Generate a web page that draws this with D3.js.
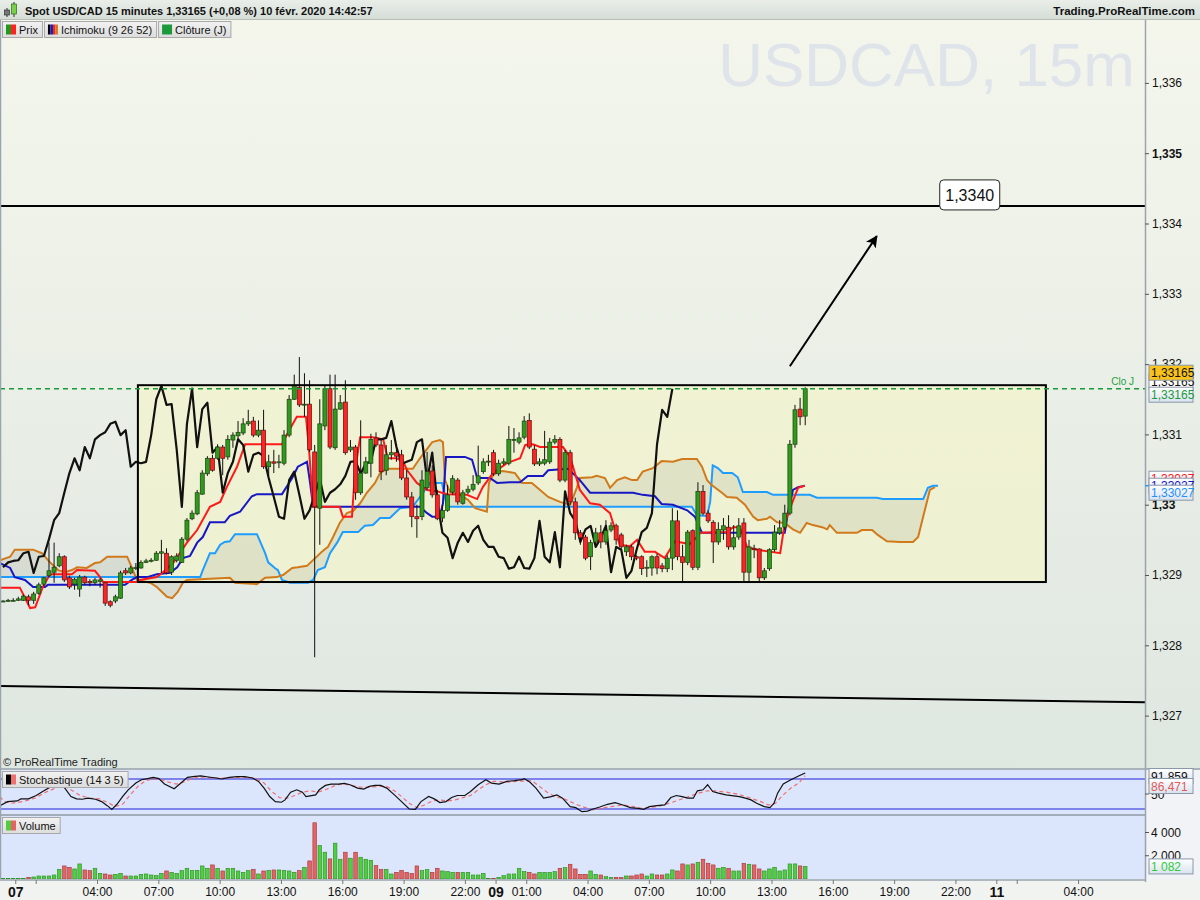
<!DOCTYPE html>
<html><head><meta charset="utf-8">
<script src="https://cdn.jsdelivr.net/npm/d3@7"></script>
<style>body{margin:0;background:#fff;} svg{display:block;font-family:"Liberation Sans",Arial,sans-serif;}</style>
</head><body><svg id="c" width="1200" height="900"></svg>
<script>
// ---------- DATA ----------
// candles: [open, high, low, close], one per 15-minute bar (bar index 0 = first bar)
const candles = [
[1.32863,1.32864,1.32862,1.32863],[1.32863,1.32866,1.32862,1.32864],[1.32864,1.32867,1.32863,1.32864],[1.32864,1.32869,1.32863,1.32866],
[1.32864,1.32872,1.32863,1.32870],[1.32869,1.32872,1.32857,1.32864],[1.32864,1.32876,1.32859,1.32873],[1.32874,1.32889,1.32872,1.32886],
[1.32887,1.32897,1.32884,1.32896],[1.32899,1.32946,1.32897,1.32906],[1.32904,1.32946,1.32889,1.32911],[1.32913,1.32931,1.32911,1.32926],
[1.32926,1.32928,1.32890,1.32893],[1.32896,1.32899,1.32880,1.32883],[1.32887,1.32896,1.32879,1.32894],[1.32880,1.32900,1.32869,1.32897],
[1.32897,1.32899,1.32886,1.32889],[1.32891,1.32894,1.32884,1.32889],[1.32889,1.32896,1.32886,1.32893],[1.32891,1.32896,1.32882,1.32893],
[1.32889,1.32890,1.32856,1.32860],[1.32862,1.32864,1.32854,1.32857],[1.32863,1.32872,1.32860,1.32869],[1.32867,1.32906,1.32866,1.32903],
[1.32906,1.32910,1.32900,1.32903],[1.32903,1.32913,1.32901,1.32910],[1.32909,1.32917,1.32907,1.32911],[1.32910,1.32921,1.32909,1.32918],
[1.32918,1.32923,1.32917,1.32920],[1.32920,1.32924,1.32918,1.32921],[1.32921,1.32934,1.32920,1.32931],[1.32931,1.32950,1.32903,1.32933],
[1.32931,1.32938,1.32901,1.32903],[1.32904,1.32928,1.32900,1.32926],[1.32921,1.32931,1.32918,1.32927],[1.32918,1.32954,1.32917,1.32951],
[1.32951,1.32981,1.32948,1.32978],[1.32980,1.32992,1.32978,1.32988],[1.32987,1.33021,1.32985,1.33017],[1.33015,1.33049,1.33014,1.33045],
[1.33044,1.33069,1.33041,1.33066],[1.33066,1.33071,1.33047,1.33049],[1.33066,1.33086,1.33064,1.33082],[1.33082,1.33085,1.33042,1.33066],
[1.33068,1.33099,1.33064,1.33093],[1.33092,1.33103,1.33081,1.33099],[1.33098,1.33119,1.33092,1.33103],[1.33102,1.33123,1.33099,1.33115],
[1.33115,1.33135,1.33112,1.33118],[1.33119,1.33125,1.33096,1.33099],[1.33099,1.33120,1.33096,1.33106],[1.33106,1.33135,1.33051,1.33054],
[1.33054,1.33071,1.33042,1.33061],[1.33061,1.33078,1.33045,1.33059],[1.33061,1.33071,1.33052,1.33061],[1.33059,1.33106,1.33056,1.33099],
[1.33099,1.33156,1.33096,1.33150],[1.33150,1.33185,1.33149,1.33169],[1.33167,1.33210,1.33139,1.33142],[1.33142,1.33187,1.33125,1.33143],
[1.33143,1.33177,1.33075,1.33078],[1.33075,1.33085,1.32783,1.32997],[1.32995,1.33150,1.32943,1.33115],[1.33112,1.33169,1.33106,1.33165],
[1.33165,1.33185,1.33079,1.33082],[1.33081,1.33185,1.33078,1.33136],[1.33136,1.33156,1.33135,1.33145],[1.33146,1.33177,1.33071,1.33074],
[1.33078,1.33092,1.33075,1.33082],[1.33082,1.33085,1.33007,1.33017],[1.33017,1.33120,1.33014,1.33045],[1.33045,1.33068,1.33044,1.33061],
[1.33059,1.33101,1.33039,1.33093],[1.33095,1.33103,1.33082,1.33085],[1.33085,1.33092,1.33035,1.33047],[1.33049,1.33085,1.33042,1.33071],
[1.33071,1.33092,1.33064,1.33074],[1.33074,1.33082,1.33061,1.33069],[1.33071,1.33078,1.33035,1.33038],[1.33038,1.33049,1.33007,1.33011],
[1.33011,1.33018,1.32968,1.32983],[1.32983,1.33000,1.32953,1.32980],[1.32983,1.33049,1.32978,1.33035],[1.33024,1.33075,1.33021,1.33047],
[1.33048,1.33056,1.33010,1.33014],[1.33014,1.33021,1.32978,1.32980],[1.32981,1.33000,1.32975,1.32992],[1.32992,1.33028,1.32990,1.33014],
[1.33018,1.33042,1.33014,1.33037],[1.33035,1.33038,1.33000,1.33004],[1.33002,1.33021,1.33000,1.33017],[1.33018,1.33027,1.33015,1.33022],
[1.33022,1.33042,1.33019,1.33029],[1.33031,1.33084,1.33028,1.33041],[1.33047,1.33066,1.33044,1.33061],[1.33061,1.33071,1.33055,1.33062],
[1.33074,1.33078,1.33041,1.33044],[1.33044,1.33064,1.33041,1.33059],[1.33059,1.33066,1.33056,1.33061],[1.33059,1.33112,1.33056,1.33093],
[1.33092,1.33109,1.33074,1.33093],[1.33089,1.33103,1.33086,1.33095],[1.33096,1.33126,1.33093,1.33119],[1.33120,1.33130,1.33079,1.33082],
[1.33079,1.33085,1.33055,1.33058],[1.33058,1.33066,1.33055,1.33061],[1.33059,1.33105,1.33056,1.33064],[1.33061,1.33095,1.33058,1.33089],
[1.33089,1.33099,1.33086,1.33093],[1.33093,1.33096,1.33032,1.33035],[1.33035,1.33078,1.33032,1.33074],[1.33074,1.33078,1.33000,1.33004],
[1.33004,1.33010,1.32950,1.32960],[1.32960,1.32964,1.32943,1.32953],[1.32954,1.32957,1.32921,1.32924],[1.32926,1.32950,1.32907,1.32946],
[1.32947,1.32967,1.32943,1.32960],[1.32960,1.32971,1.32938,1.32947],[1.32947,1.32978,1.32943,1.32963],[1.32964,1.32975,1.32961,1.32970],
[1.32970,1.32973,1.32943,1.32950],[1.32957,1.32960,1.32936,1.32940],[1.32933,1.32943,1.32927,1.32940],[1.32940,1.32943,1.32921,1.32926],
[1.32926,1.32928,1.32921,1.32924],[1.32926,1.32928,1.32900,1.32909],[1.32910,1.32921,1.32897,1.32911],[1.32910,1.32928,1.32899,1.32926],
[1.32926,1.32930,1.32901,1.32910],[1.32913,1.32917,1.32904,1.32909],[1.32909,1.32928,1.32904,1.32924],[1.32924,1.32995,1.32907,1.32977],
[1.32977,1.32992,1.32921,1.32926],[1.32926,1.32943,1.32889,1.32918],[1.32918,1.32964,1.32914,1.32961],[1.32963,1.32965,1.32907,1.32911],
[1.32911,1.33032,1.32907,1.33019],[1.33019,1.33028,1.32985,1.32988],[1.32988,1.32992,1.32974,1.32977],[1.32975,1.32978,1.32917,1.32947],
[1.32947,1.32975,1.32943,1.32965],[1.32964,1.32981,1.32950,1.32970],[1.32968,1.32985,1.32936,1.32940],[1.32940,1.32971,1.32936,1.32953],
[1.32954,1.32981,1.32950,1.32970],[1.32974,1.32981,1.32889,1.32904],[1.32904,1.32950,1.32889,1.32940],[1.32938,1.32943,1.32924,1.32936],
[1.32937,1.32938,1.32889,1.32896],[1.32896,1.32910,1.32893,1.32906],[1.32909,1.32938,1.32906,1.32936],[1.32936,1.32971,1.32933,1.32961],
[1.32960,1.32978,1.32957,1.32967],[1.32968,1.33000,1.32964,1.32988],[1.32988,1.33092,1.32985,1.33086],[1.33086,1.33142,1.33081,1.33135],
[1.33136,1.33152,1.33113,1.33125],[1.33126,1.33167,1.33113,1.33165]
];
const volumes = [58,58,58,
58,58,144,173,259,259,259,346,835,1123,1008,864,1296,778,720,922,490,432,346,403,490,259,259,259,403,432,346,288,
490,691,576,490,720,922,720,749,1123,922,1210,922,691,922,922,691,576,720,835,432,691,749,778,778,749,691,576,720,
1008,1555,4838,2880,2304,1728,3082,1699,2304,1786,2304,1872,1699,1613,1152,835,835,432,576,749,576,490,1123,720,806,
576,922,691,634,576,576,576,576,346,346,490,30,30,144,288,432,432,922,634,576,432,576,576,576,634,922,979,1267,864,
403,403,691,403,346,202,144,144,115,259,259,346,432,259,432,346,346,432,778,691,1296,1210,1296,1440,1699,1354,1210,
922,1008,922,691,691,1354,1267,1210,864,691,864,1008,691,778,1296,1296,1123,1082];

// Ichimoku lines: [bar index, price]
const tenkan = [[-0.6,1.32882],[3.3,1.32882],[5.3,1.32853],[6.3,1.32854],[7.8,1.32883],[9.2,1.32901],[13.5,1.32901],[14.5,1.32907],[18.0,1.32906],[19.0,1.32897],[19.6,1.32890],[26.2,1.32890],[26.8,1.32893],[30.1,1.32897],[31.3,1.32904],[33.3,1.32917],[34.6,1.32931],[36.0,1.32946],[38.0,1.32964],[40.5,1.32997],[42.5,1.33004],[43.8,1.33025],[45.8,1.33054],[47.4,1.33086],[54.6,1.33086],[55.8,1.33103],[57.5,1.33125],[59.3,1.33125],[59.9,1.33078],[60.7,1.32997],[65.9,1.32997],[66.5,1.32983],[68.3,1.32983],[68.9,1.33049],[69.9,1.33096],[72.4,1.33096],[74.4,1.33093],[75.3,1.33066],[77.1,1.33066],[78.3,1.33061],[79.1,1.33049],[81.0,1.33031],[83.0,1.33021],[84.9,1.33019],[86.9,1.33015],[90.8,1.33014],[92.8,1.33008],[93.9,1.33025],[95.9,1.33045],[98.6,1.33059],[101.2,1.33066],[102.2,1.33085],[103.7,1.33086],[105.1,1.33082],[109.6,1.33082],[111.0,1.33068],[112.9,1.33021],[114.9,1.33002],[116.8,1.33000],[118.8,1.32988],[120.7,1.32943],[122.7,1.32941],[124.1,1.32950],[125.6,1.32933],[127.6,1.32933],[129.5,1.32924],[130.5,1.32936],[131.5,1.32948],[134.4,1.32944],[135.8,1.32954],[136.4,1.32960],[141.7,1.32961],[142.9,1.32968],[144.2,1.32968],[145.6,1.32940],[147.5,1.32936],[152.1,1.32931],[153.0,1.32974],[154.4,1.33002],[155.6,1.33024],[156.9,1.33027]];
const kijun = [[-0.6,1.32917],[1.4,1.32910],[2.3,1.32897],[4.3,1.32893],[5.9,1.32883],[8.2,1.32883],[8.8,1.32886],[23.9,1.32886],[25.2,1.32893],[26.2,1.32897],[28.2,1.32897],[30.1,1.32901],[32.7,1.32903],[34.1,1.32911],[35.2,1.32924],[36.6,1.32927],[38.0,1.32946],[39.1,1.32954],[40.5,1.32975],[43.4,1.32975],[44.4,1.32984],[46.4,1.32990],[48.7,1.33012],[49.7,1.33015],[54.6,1.33015],[56.6,1.33038],[57.7,1.33054],[59.5,1.33061],[60.1,1.33031],[60.7,1.32997],[81.6,1.32997],[83.0,1.32988],[84.0,1.32983],[85.5,1.32983],[86.1,1.33002],[86.7,1.33068],[90.4,1.33068],[91.8,1.33064],[92.8,1.33038],[95.3,1.33038],[96.7,1.33031],[99.2,1.33032],[101.2,1.33032],[102.7,1.33041],[105.7,1.33041],[106.7,1.33049],[110.6,1.33051],[112.9,1.33035],[114.9,1.33017],[123.3,1.33017],[125.2,1.33014],[127.6,1.33012],[128.9,1.33001],[131.1,1.33000],[133.9,1.32992],[135.4,1.32983],[136.8,1.32960],[153.0,1.32960],[153.6,1.32988],[154.6,1.33021],[155.6,1.33025],[156.9,1.33027]];
const senkouA = [[-0.6,1.32897],[38.6,1.32897],[39.1,1.32907],[40.5,1.32931],[41.5,1.32931],[42.5,1.32943],[43.4,1.32947],[44.4,1.32948],[45.4,1.32958],[49.7,1.32958],[51.3,1.32931],[51.9,1.32918],[53.2,1.32910],[53.8,1.32907],[54.6,1.32893],[56.2,1.32889],[59.7,1.32889],[60.7,1.32893],[61.6,1.32907],[63.0,1.32911],[64.0,1.32931],[65.4,1.32946],[66.5,1.32961],[69.5,1.32961],[70.8,1.32970],[72.4,1.32971],[73.8,1.32981],[75.7,1.32981],[77.7,1.32995],[80.2,1.32997],[82.2,1.33017],[83.6,1.33031],[85.9,1.33031],[86.9,1.32997],[134.8,1.32997],[135.8,1.32985],[137.8,1.32984],[138.4,1.33004],[138.9,1.33056],[139.9,1.33052],[140.9,1.33045],[142.7,1.33045],[143.8,1.33039],[144.8,1.33018],[149.5,1.33018],[150.7,1.33014],[157.9,1.33014],[159.3,1.33010],[171.0,1.33010],[172.2,1.33008],[180.1,1.33008],[181.0,1.33024],[182.0,1.33027],[183.0,1.33027]];
const senkouB = [[-0.6,1.32921],[1.4,1.32926],[2.3,1.32936],[5.9,1.32936],[7.6,1.32931],[9.2,1.32918],[10.8,1.32907],[12.1,1.32904],[13.5,1.32907],[14.5,1.32911],[16.4,1.32910],[18.0,1.32917],[19.0,1.32918],[20.4,1.32926],[24.3,1.32926],[25.2,1.32911],[26.2,1.32893],[28.8,1.32889],[30.1,1.32883],[32.1,1.32869],[33.1,1.32867],[34.2,1.32876],[35.2,1.32889],[36.0,1.32893],[38.6,1.32894],[44.4,1.32896],[45.4,1.32889],[49.7,1.32887],[51.3,1.32896],[53.6,1.32897],[54.8,1.32900],[56.6,1.32910],[57.7,1.32911],[59.5,1.32913],[61.1,1.32924],[62.4,1.32933],[63.6,1.32940],[64.6,1.32954],[65.9,1.32974],[67.3,1.32988],[68.5,1.32991],[69.9,1.33002],[71.2,1.33017],[72.8,1.33031],[73.8,1.33045],[75.1,1.33051],[80.2,1.33051],[81.6,1.33066],[84.0,1.33089],[85.5,1.33092],[86.1,1.33089],[86.5,1.33035],[87.5,1.33018],[89.4,1.33014],[91.0,1.33007],[92.4,1.32995],[94.7,1.32990],[95.1,1.33031],[95.9,1.33042],[96.9,1.33047],[97.8,1.33048],[100.2,1.33045],[101.6,1.33031],[103.5,1.33031],[106.7,1.33011],[109.0,1.33004],[111.0,1.33000],[112.3,1.33024],[112.9,1.33038],[115.3,1.33039],[116.2,1.33041],[117.8,1.33038],[118.8,1.33024],[120.2,1.33035],[121.7,1.33039],[123.1,1.33035],[124.1,1.33035],[125.2,1.33047],[127.2,1.33052],[128.9,1.33062],[131.1,1.33061],[132.9,1.33065],[135.8,1.33065],[136.8,1.33054],[137.8,1.33035],[138.7,1.33028],[140.7,1.33017],[141.7,1.33011],[143.6,1.33010],[145.2,1.33000],[146.8,1.32983],[147.7,1.32978],[149.5,1.32980],[150.1,1.32983],[151.5,1.32975],[153.0,1.32974],[154.6,1.32965],[156.0,1.32960],[157.3,1.32974],[158.5,1.32971],[160.3,1.32968],[161.3,1.32965],[161.8,1.32971],[163.2,1.32960],[167.1,1.32960],[168.1,1.32964],[170.1,1.32964],[171.2,1.32957],[173.0,1.32948],[175.5,1.32947],[178.1,1.32947],[179.1,1.32954],[180.4,1.32992],[181.4,1.33021],[182.4,1.33025]];
const chikouShift = 26;

// Stochastic (14 3 5): [bar index, value]
const stochK = [[-0.6,26.7],[0.9,34.8],[2.8,36.2],[3.5,40.2],[5.0,40.2],[6.5,47.0],[8.0,56.4],[9.5,65.2],[10.6,68.5],[11.4,67.2],[12.1,61.8],[13.3,44.9],[14.4,40.2],[15.5,39.5],[16.6,41.6],[18.1,39.5],[19.3,34.8],[20.4,26.7],[21.3,19.3],[22.3,29.4],[23.4,44.9],[24.5,58.4],[26.0,71.9],[27.1,78.6],[28.3,80.7],[29.4,83.4],[30.5,80.7],[31.6,69.9],[33.5,60.4],[34.6,69.9],[36.1,83.4],[37.6,85.4],[38.7,86.1],[40.2,84.0],[41.7,82.0],[42.8,80.0],[44.3,83.4],[45.8,84.7],[47.3,84.7],[48.8,82.0],[50.0,75.3],[51.1,61.8],[52.2,44.9],[53.3,34.8],[54.5,33.5],[55.2,38.2],[56.3,53.7],[57.5,58.4],[58.6,53.7],[59.3,44.9],[60.1,46.3],[61.2,48.3],[61.9,58.4],[63.1,67.2],[64.2,69.9],[65.7,69.9],[66.8,71.2],[67.9,68.5],[69.4,61.8],[70.6,59.8],[71.7,65.2],[72.8,67.2],[73.9,67.2],[75.1,61.8],[76.6,48.3],[78.0,34.8],[79.5,20.0],[80.7,19.3],[81.8,34.8],[83.3,44.9],[84.4,40.2],[85.5,32.8],[86.7,34.8],[87.8,42.9],[88.9,47.0],[90.4,47.0],[91.5,55.0],[93.0,68.5],[94.5,78.6],[95.6,71.9],[97.1,69.9],[98.6,75.3],[100.1,76.6],[101.6,78.6],[102.0,80.7],[103.1,73.9],[104.3,61.8],[105.8,41.6],[107.3,44.9],[108.4,48.3],[109.5,41.6],[111.0,24.7],[112.1,22.7],[113.3,14.6],[114.4,15.9],[115.5,20.0],[116.8,24.0],[118.3,29.4],[119.8,32.8],[121.3,28.1],[122.8,22.7],[124.3,21.3],[125.4,19.3],[126.5,24.7],[128.0,26.7],[129.5,28.1],[130.7,42.9],[131.8,47.0],[132.9,44.9],[134.0,41.6],[135.1,41.6],[135.9,56.4],[137.0,58.4],[137.9,68.5],[138.9,55.0],[140.0,51.7],[141.5,48.3],[143.0,46.3],[144.1,44.9],[145.3,41.6],[146.4,38.2],[147.5,31.5],[149.0,24.7],[150.1,22.7],[150.9,31.5],[151.6,51.7],[152.7,69.9],[154.2,78.6],[155.7,86.0],[157.0,91.859]];
const stochD = [[-0.6,44.9],[0.2,34.8],[1.7,31.5],[3.9,34.8],[6.2,41.6],[8.4,53.7],[10.6,63.1],[12.1,65.2],[13.6,56.4],[15.1,47.0],[17.0,41.6],[18.9,40.2],[20.8,31.5],[21.9,24.7],[23.4,29.4],[24.9,48.3],[26.4,65.2],[27.9,76.6],[29.4,80.7],[30.9,78.6],[32.4,73.9],[33.9,69.9],[35.4,73.9],[36.9,80.7],[38.4,84.0],[39.9,83.4],[41.3,82.0],[44.3,82.0],[45.8,83.4],[48.1,83.4],[49.6,80.7],[51.1,71.9],[52.6,55.0],[54.1,42.9],[55.6,41.6],[57.1,47.0],[58.6,53.7],[60.1,56.4],[61.6,53.7],[63.1,58.4],[64.6,65.2],[66.1,69.9],[67.6,68.5],[69.1,65.2],[70.6,63.1],[73.6,65.2],[75.1,65.2],[76.6,56.4],[78.0,44.9],[79.5,31.5],[81.0,22.7],[82.5,28.1],[84.0,36.2],[85.5,38.2],[87.0,36.2],[88.5,38.2],[90.0,42.9],[91.5,47.0],[93.0,58.4],[94.5,68.5],[96.0,75.3],[99.0,73.9],[100.5,75.3],[103.5,76.6],[105.0,65.2],[106.5,53.7],[108.0,44.9],[109.5,41.6],[111.0,34.8],[112.5,28.1],[114.0,22.7],[115.5,18.0],[116.8,21.3],[119.0,24.7],[121.3,28.1],[123.5,24.7],[125.0,21.3],[126.5,22.7],[128.8,26.7],[131.0,33.5],[133.3,41.6],[135.5,49.7],[137.8,56.4],[139.3,56.4],[141.5,53.7],[143.8,49.7],[146.0,42.9],[148.3,34.8],[149.8,28.1],[151.2,31.5],[152.7,48.3],[154.2,61.8],[155.7,71.9],[157.0,86.471]];
const stochLevels = [80, 20];

// Drawings
const resistanceLevel = 1.33425;
const resistanceLabel = "1,3340";
const closeJ = 1.33165;
const rangeBox = {b0: 26.4, b1: 204.1, lo: 1.32890, hi: 1.33170};
const supportLine = [[-0.587, 1.32742], [223.5, 1.32719]];
const arrowPts = [[154.0, 1.33197], [171.0, 1.33382]];

// Axes
const priceTicks = [1.327,1.328,1.329,1.330,1.331,1.332,1.333,1.334,1.335,1.336];
const timeTickPos = [2.4,6.4,18.4,30.4,42.4,54.4,66.4,78.4,90.4,96.4,102.4,114.4,126.4,138.4,150.4,162.4,174.4,186.4,194.4,198.4,210.4];
const timeTickLabels = ["07","","04:00","07:00","10:00","13:00","16:00","19:00","22:00","09","01:00","04:00","07:00","10:00","13:00","16:00","19:00","22:00","11","","04:00"];
const dayLabels = ["07","09","11"];
const volTicks = [2000, 4000];

// ---------- LAYOUT ----------
const PR = 1145;           // plot right edge
const MAIN_TOP = 20, MAIN_BOT = 768;
const ST_TOP = 770, ST_BOT = 814;
const VO_TOP = 816, VO_BOT = 879;

const x = d3.scaleLinear().domain([-0.587, 223.5]).range([0, PR]);
const y = d3.scaleLinear().domain([1.329, 1.336]).range([575, 82.9]);
const yS = d3.scaleLinear().domain([0, 100]).range([819, 769]);
const yV = d3.scaleLinear().domain([0, 4000]).range([VO_BOT, 832.5]);

const svg = d3.select('#c');
const defs = svg.append('defs');
function vgrad(id, a, b){const g=defs.append('linearGradient').attr('id',id).attr('x1',0).attr('y1',0).attr('x2',0).attr('y2',1);
 g.append('stop').attr('offset','0%').attr('stop-color',a); g.append('stop').attr('offset','100%').attr('stop-color',b);}
vgrad('bgMain','#f4f6ec','#dfe7e1');
vgrad('bgHead','#e9eee9','#d5dcd6');
vgrad('bgLbl','#ffffff','#d9e2ee');
vgrad('bgLeg','#f2f2f2','#dcdcdc');
defs.append('clipPath').attr('id','clipMain').append('rect').attr('x',0).attr('y',MAIN_TOP).attr('width',PR).attr('height',MAIN_BOT-MAIN_TOP);
defs.append('clipPath').attr('id','clipSt').append('rect').attr('x',0).attr('y',ST_TOP).attr('width',PR).attr('height',ST_BOT-ST_TOP);
defs.append('clipPath').attr('id','clipVo').append('rect').attr('x',0).attr('y',VO_TOP).attr('width',PR).attr('height',VO_BOT-VO_TOP);
defs.append('marker').attr('id','arrowHead').attr('viewBox','0 0 10 10').attr('refX',9).attr('refY',5)
  .attr('markerWidth',6).attr('markerHeight',6).attr('orient','auto')
  .append('path').attr('d','M0,0 L10,5 L0,10 L2.5,5 z').attr('fill','#000');

// backgrounds
svg.append('rect').attr('x',0).attr('y',0).attr('width',1200).attr('height',900).attr('fill','#eef1ee');
svg.append('rect').attr('x',0).attr('y',MAIN_TOP).attr('width',1200).attr('height',MAIN_BOT-MAIN_TOP).attr('fill','url(#bgMain)');
svg.append('rect').attr('x',0).attr('y',MAIN_BOT).attr('width',1200).attr('height',2).attr('fill','#aab2ba');
svg.append('rect').attr('x',0).attr('y',ST_TOP).attr('width',PR).attr('height',ST_BOT-ST_TOP).attr('fill','#dbe5fb');
svg.append('rect').attr('x',0).attr('y',VO_TOP).attr('width',PR).attr('height',VO_BOT-VO_TOP).attr('fill','#dbe5fb');
svg.append('rect').attr('x',PR).attr('y',ST_TOP).attr('width',1200-PR).attr('height',VO_BOT-ST_TOP).attr('fill','#f1f3f6');
svg.append('line').attr('x1',0).attr('x2',PR).attr('y1',ST_BOT+1).attr('y2',ST_BOT+1).attr('stroke','#a2acb8').attr('stroke-width',2);
svg.append('rect').attr('x',0).attr('y',VO_BOT).attr('width',1200).attr('height',900-VO_BOT).attr('fill','#f1f3f1');

// watermark
svg.append('text').attr('x',1135).attr('y',86).attr('text-anchor','end').attr('font-size',62).attr('fill','#dfe3ea').text('USDCAD, 15m');

// ---------- MAIN PANEL ----------
const gm = svg.append('g').attr('clip-path','url(#clipMain)');
gm.append('rect').attr('x',x(rangeBox.b0)).attr('y',y(rangeBox.hi)).attr('width',x(rangeBox.b1)-x(rangeBox.b0))
  .attr('height',y(rangeBox.lo)-y(rangeBox.hi)).attr('fill','#f7f7c0').attr('fill-opacity',0.5);

const line = d3.line().x(d=>x(d[0])).y(d=>y(d[1]));
// cloud
const cloudPts = senkouA.concat(senkouB.slice().reverse());
gm.append('path').attr('d', line(cloudPts)+'Z').attr('fill','#a8a898').attr('fill-opacity',0.22);
gm.append('path').attr('d',line(senkouA)).attr('fill','none').attr('stroke','#1e9dff').attr('stroke-width',2);
gm.append('path').attr('d',line(senkouB)).attr('fill','none').attr('stroke','#d17a1c').attr('stroke-width',2);
gm.append('path').attr('d',line(kijun)).attr('fill','none').attr('stroke','#1717c4').attr('stroke-width',2);
gm.append('path').attr('d',line(tenkan)).attr('fill','none').attr('stroke','#ff1a1a').attr('stroke-width',2);
const chikou = candles.slice(chikouShift).map((c,k)=>[k, c[3]]);
gm.append('path').attr('d',line(chikou)).attr('fill','none').attr('stroke','#111').attr('stroke-width',2.2).attr('stroke-linejoin','round');

// candles
const rows = candles.map((c,i)=>({i, o:c[0], h:c[1], l:c[2], c:c[3]}));
gm.selectAll('line.wick').data(rows).join('line').attr('class','wick')
  .attr('x1',d=>x(d.i)).attr('x2',d=>x(d.i)).attr('y1',d=>y(d.h)).attr('y2',d=>y(d.l))
  .attr('stroke','#111').attr('stroke-width',1);
gm.selectAll('rect.body').data(rows).join('rect').attr('class','body')
  .attr('x',d=>x(d.i)-2).attr('width',4)
  .attr('y',d=>y(Math.max(d.o,d.c)))
  .attr('height',d=>Math.max(1, Math.abs(y(d.o)-y(d.c))))
  .attr('fill',d=>d.c>=d.o?'#2f9b1c':'#ff2323')
  .attr('stroke',d=>d.c>=d.o?'#1d3d12':'#5a1010').attr('stroke-width',0.7);

// drawings
gm.append('rect').attr('x',x(rangeBox.b0)).attr('y',y(rangeBox.hi)).attr('width',x(rangeBox.b1)-x(rangeBox.b0))
  .attr('height',y(rangeBox.lo)-y(rangeBox.hi)).attr('fill','none').attr('stroke','#000').attr('stroke-width',2);
gm.append('path').attr('d',line(supportLine)).attr('stroke','#000').attr('stroke-width',2);
gm.append('line').attr('x1',0).attr('x2',PR).attr('y1',y(resistanceLevel)).attr('y2',y(resistanceLevel)).attr('stroke','#000').attr('stroke-width',2);
gm.append('line').attr('x1',0).attr('x2',PR).attr('y1',y(closeJ)).attr('y2',y(closeJ)).attr('stroke','#1a9a3a').attr('stroke-width',1.6).attr('stroke-dasharray','5,4');
gm.append('text').attr('x',1134).attr('y',y(closeJ)-4).attr('text-anchor','end').attr('font-size',10).attr('fill','#22a040').text('Clo J');
gm.append('path').attr('d',line(arrowPts)).attr('stroke','#000').attr('stroke-width',2).attr('marker-end','url(#arrowHead)');
const lbx = x(189.2), lby = y(resistanceLevel)-11;
gm.append('rect').attr('x',lbx-30).attr('y',lby-15).attr('width',60).attr('height',30).attr('rx',4)
  .attr('fill','#fff').attr('stroke','#222').attr('stroke-width',1);
gm.append('text').attr('x',lbx).attr('y',lby+6).attr('text-anchor','middle').attr('font-size',16).attr('fill','#111').text(resistanceLabel);

svg.append('text').attr('x',3).attr('y',766).attr('font-size',11).attr('fill','#222').text('© ProRealTime Trading');

// ---------- STOCHASTIC ----------
const gs = svg.append('g').attr('clip-path','url(#clipSt)');
stochLevels.forEach(v=>gs.append('line').attr('x1',0).attr('x2',PR).attr('y1',yS(v)).attr('y2',yS(v)).attr('stroke','#2222dd').attr('stroke-width',1.2));
const sline = d3.line().x(d=>x(d[0])).y(d=>yS(d[1]));
gs.append('path').attr('d',sline(stochD)).attr('fill','none').attr('stroke','#f07070').attr('stroke-width',1.2).attr('stroke-dasharray','4,3');
gs.append('path').attr('d',sline(stochK)).attr('fill','none').attr('stroke','#111').attr('stroke-width',1.2);

// ---------- VOLUME ----------
const gv = svg.append('g').attr('clip-path','url(#clipVo)');
gv.selectAll('rect').data(volumes.map((v,i)=>({i,v}))).join('rect')
  .attr('x',d=>x(d.i)-1.8).attr('width',3.6)
  .attr('y',d=>yV(d.v)).attr('height',d=>VO_BOT-yV(d.v))
  .attr('fill',d=>{const c=candles[d.i]; return (c && c[3]<c[0])?'#e46464':'#4fcf3f';})
  .attr('stroke',d=>{const c=candles[d.i]; return (c && c[3]<c[0])?'#a23434':'#2b8a22';}).attr('stroke-width',0.6);

// ---------- AXES ----------
svg.append('line').attr('x1',PR+0.5).attr('x2',PR+0.5).attr('y1',MAIN_TOP).attr('y2',VO_BOT+3).attr('stroke','#9aa4ae').attr('stroke-width',1.5);
svg.append('line').attr('x1',0.5).attr('x2',0.5).attr('y1',MAIN_TOP).attr('y2',VO_BOT).attr('stroke','#9aa4ae').attr('stroke-width',1.5);
const fmtP = v => (+v.toFixed(3)).toString().replace('.', ',');
const ya = svg.append('g').attr('transform',`translate(${PR},0)`)
  .call(d3.axisRight(y).tickValues(priceTicks).tickSize(4).tickPadding(3).tickFormat(fmtP));
ya.select('.domain').remove();
ya.selectAll('line').attr('stroke','#555');
ya.selectAll('text').attr('font-size',12).attr('fill','#111').attr('font-family','"Liberation Sans",Arial,sans-serif')
  .attr('font-weight',d=>Math.abs(d*200-Math.round(d*200))<1e-6?'bold':'normal');

const xa = svg.append('g').attr('transform',`translate(0,${VO_BOT+1})`)
  .call(d3.axisBottom(x).tickValues(timeTickPos).tickSize(4).tickPadding(3).tickFormat((d,i)=>timeTickLabels[i]));
xa.select('.domain').attr('stroke','#9aa4ae').attr('stroke-width',1.5).attr('d',`M0,0H${PR}`);
xa.selectAll('line').attr('stroke','#777');
xa.selectAll('text').attr('font-family','"Liberation Sans",Arial,sans-serif').attr('fill','#111')
  .attr('font-size',(d,i)=>dayLabels.includes(timeTickLabels[i])?14:12)
  .attr('font-weight',(d,i)=>dayLabels.includes(timeTickLabels[i])?'bold':'normal');

// volume axis
const fmtV = v => d3.format(',')(v).replace(/,/g,' ');
volTicks.forEach(v=>{
  svg.append('line').attr('x1',PR).attr('x2',PR+4).attr('y1',yV(v)).attr('y2',yV(v)).attr('stroke','#555');
  svg.append('text').attr('x',PR+6).attr('y',yV(v)+4).attr('font-size',12).attr('fill','#111').text(fmtV(v));
});
// stochastic axis "50"
svg.append('line').attr('x1',PR).attr('x2',PR+4).attr('y1',yS(50)).attr('y2',yS(50)).attr('stroke','#555');
svg.append('text').attr('x',PR+6).attr('y',yS(50)+5).attr('font-size',12).attr('fill','#111').text('50');

// value labels on the right axis
function valLabel(cy, text, color, fill){
  svg.append('rect').attr('x',PR+4).attr('y',cy-7.5).attr('width',44).attr('height',15)
    .attr('fill',fill||'url(#bgLbl)').attr('stroke','#8a98aa').attr('stroke-width',1);
  svg.append('text').attr('x',PR+6).attr('y',cy+4.5).attr('font-size',12).attr('fill',color).text(text);
}
const fmt5 = v => d3.format('.5f')(v).replace('.', ',');
const fmt3 = v => d3.format('.3f')(v).replace('.', ',');
const lastClose = candles[candles.length-1][3];
valLabel(y(lastClose)-7, fmt5(lastClose), '#111', '#fff');
valLabel(y(closeJ)+6, fmt5(closeJ), '#1a9a3a');
valLabel(y(lastClose)-16, fmt5(lastClose), '#111', '#f9c31c');
const lastT = tenkan[tenkan.length-1][1], lastKj = kijun[kijun.length-1][1], lastSA = senkouA[senkouA.length-1][1];
svg.append('line').attr('x1',PR).attr('x2',PR+4).attr('y1',y(lastSA)).attr('y2',y(lastSA)).attr('stroke','#1e9dff').attr('stroke-width',1.5);
valLabel(y(lastT)-7, fmt5(lastT), '#ff1a1a');
valLabel(y(lastKj)+0, fmt5(lastKj), '#1717c4');
valLabel(y(lastSA)+7, fmt5(lastSA), '#1e90ff');
const lastK = stochK[stochK.length-1][1], lastD = stochD[stochD.length-1][1];
valLabel(776, fmt3(lastK), '#111');
valLabel(786, fmt3(lastD), '#e05a5a');
valLabel(yV(volumes[volumes.length-1]), fmtV(volumes[volumes.length-1]), '#2ecc3a');

// ---------- HEADER & LEGENDS ----------
svg.append('rect').attr('x',0).attr('y',0).attr('width',1200).attr('height',MAIN_TOP).attr('fill','url(#bgHead)');
svg.append('line').attr('x1',0).attr('x2',1200).attr('y1',MAIN_TOP-0.5).attr('y2',MAIN_TOP-0.5).attr('stroke','#b7bfb8');
// icon
svg.append('line').attr('x1',7).attr('x2',7).attr('y1',8).attr('y2',17).attr('stroke','#333');
svg.append('rect').attr('x',4.5).attr('y',10).attr('width',5).attr('height',5).attr('fill','#777').attr('stroke','#333').attr('stroke-width',0.7);
svg.append('line').attr('x1',14).attr('x2',14).attr('y1',2).attr('y2',17).attr('stroke','#333');
svg.append('rect').attr('x',11.5).attr('y',4).attr('width',5).attr('height',10).attr('fill','#7ad04a').attr('stroke','#2a6a1a').attr('stroke-width',0.7);
svg.append('text').attr('x',25).attr('y',15).attr('font-size',11).attr('font-weight','bold').attr('fill','#111')
  .text('Spot USD/CAD 15 minutes 1,33165 (+0,08 %) 10 févr. 2020 14:42:57');
svg.append('text').attr('x',1195).attr('y',15).attr('text-anchor','end').attr('font-size',11.5).attr('font-weight','bold').attr('fill','#111')
  .text('Trading.ProRealTime.com');

function legend(x0, y0, text, colors){
  const gl = svg.append('g');
  const r = gl.append('rect').attr('x',x0+0.5).attr('y',y0+0.5).attr('height',16).attr('fill','url(#bgLeg)').attr('stroke','#a8a8a8');
  const sw = 10/colors.length;
  colors.forEach((c,i)=>gl.append('rect').attr('x',x0+4+i*sw).attr('y',y0+3.5).attr('width',sw).attr('height',10).attr('fill',c));
  const t = gl.append('text').attr('x',x0+17).attr('y',y0+12.5).attr('font-size',11).attr('fill','#111').text(text);
  const w = 17 + t.node().getComputedTextLength() + 4;
  r.attr('width', w);
  return x0 + w + 2;
}
let lx = legend(2, 21, 'Prix', ['#1f9a1f','#ff2020']);
lx = legend(lx, 21, 'Ichimoku (9 26 52)', ['#000','#1717c4','#ff2020','#d17a1c']);
legend(lx, 21, 'Clôture (J)', ['#1a9a3a']);
legend(2, 771, 'Stochastique (14 3 5)', ['#000','#f07070']);
legend(2, 817, 'Volume', ['#4fcf3f','#e46464']);
</script>
</body></html>
